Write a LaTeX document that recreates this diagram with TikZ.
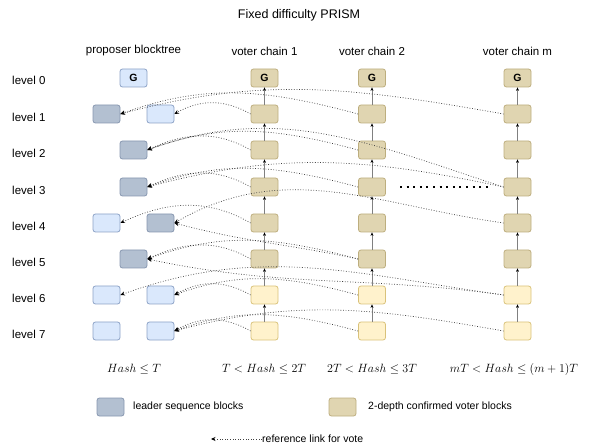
\documentclass[tikz,border=0pt]{standalone}
\usepackage{fontspec}
\setmainfont{Liberation Sans}
\usetikzlibrary{arrows.meta}
\definecolor{propfill}{HTML}{DAE8FC}
\definecolor{propdraw}{HTML}{8DA2C6}
\definecolor{leadfill}{HTML}{B3C0D1}
\definecolor{leaddraw}{HTML}{8797B0}
\definecolor{conffill}{HTML}{E0D5B1}
\definecolor{confdraw}{HTML}{BDAE7E}
\definecolor{pendfill}{HTML}{FFF2CC}
\definecolor{penddraw}{HTML}{D9C27A}
\tikzset{
  blk/.style={rectangle, rounded corners=2.5pt, minimum width=27pt, minimum height=18pt,
    inner sep=0pt, line width=0.8pt, font=\fontsize{10.5}{12}\selectfont\bfseries},
  prop/.style={blk, fill=propfill, draw=propdraw},
  lead/.style={blk, fill=leadfill, draw=leaddraw},
  conf/.style={blk, fill=conffill, draw=confdraw},
  pend/.style={blk, fill=pendfill, draw=penddraw},
  ttl/.style={font=\fontsize{12.5}{15}\selectfont},
  hdr/.style={font=\fontsize{11.5}{13}\selectfont},
  lvl/.style={anchor=west, inner sep=0pt, font=\fontsize{11.5}{13}\selectfont},
  hsh/.style={font=\fontsize{13}{16}\selectfont},
  key/.style={anchor=west, inner sep=0pt, font=\fontsize{10.5}{12}\selectfont},
  link/.style={draw=black!50, line width=0.8pt, -{Stealth[length=3.5pt,width=3pt,color=black]}},
  vote/.style={draw=black!75, line width=0.7pt, dash pattern=on 0.8pt off 1.8pt,
    -{Stealth[length=4.5pt,width=4pt,color=black]}},
  gap/.style={line width=2pt, dash pattern=on 2pt off 4.6pt}
}
\begin{document}
\begin{tikzpicture}[x=1pt,y=1pt]
  \useasboundingbox (0,0) rectangle (589,-446);
  \node[ttl] (title) at (299,-15) {Fixed difficulty PRISM};
  \path
    (133.5,-51) node[hdr] (hp){proposer blocktree}
    (264.5,-51) node[hdr] (h1){voter chain 1}
    (372,-51) node[hdr] (h2){voter chain 2}
    (517.5,-51) node[hdr] (hm){voter chain m};
  \path
    (12,-80) node[lvl] (l0){level 0}
    (12,-117) node[lvl] (l1){level 1}
    (12,-153) node[lvl] (l2){level 2}
    (12,-190) node[lvl] (l3){level 3}
    (12,-226) node[lvl] (l4){level 4}
    (12,-262) node[lvl] (l5){level 5}
    (12,-298) node[lvl] (l6){level 6}
    (12,-334) node[lvl] (l7){level 7};
  % proposer blocktree
  \path
    (133.5,-78) node[prop] (p0){G}
    (106.5,-114) node[lead] (p1a){}
    (160.5,-114) node[prop] (p1b){}
    (133.5,-150) node[lead] (p2){}
    (133.5,-187) node[lead] (p3){}
    (106.5,-223) node[prop] (p4a){}
    (160.5,-223) node[lead] (p4b){}
    (133.5,-259) node[lead] (p5){}
    (106.5,-295) node[prop] (p6a){}
    (160.5,-295) node[prop] (p6b){}
    (106.5,-331) node[prop] (p7a){}
    (160.5,-331) node[prop] (p7b){};
  % voter chains
  \path
    (264.5,-78) node[conf] (v1-0){G}
    (264.5,-114) node[conf] (v1-1){}
    (264.5,-150) node[conf] (v1-2){}
    (264.5,-187) node[conf] (v1-3){}
    (264.5,-223) node[conf] (v1-4){}
    (264.5,-259) node[conf] (v1-5){}
    (264.5,-295) node[pend] (v1-6){}
    (264.5,-331) node[pend] (v1-7){}
    (372,-78) node[conf] (v2-0){G}
    (372,-114) node[conf] (v2-1){}
    (372,-150) node[conf] (v2-2){}
    (372,-187) node[conf] (v2-3){}
    (372,-223) node[conf] (v2-4){}
    (372,-259) node[conf] (v2-5){}
    (372,-295) node[pend] (v2-6){}
    (372,-331) node[pend] (v2-7){}
    (517.5,-78) node[conf] (vm-0){G}
    (517.5,-114) node[conf] (vm-1){}
    (517.5,-150) node[conf] (vm-2){}
    (517.5,-187) node[conf] (vm-3){}
    (517.5,-223) node[conf] (vm-4){}
    (517.5,-259) node[conf] (vm-5){}
    (517.5,-295) node[pend] (vm-6){}
    (517.5,-331) node[pend] (vm-7){};
  \draw[gap] (400,-187) -- (488,-187);
  \begin{scope}[link]
    \draw (v1-1) -- (v1-0);
    \draw (v1-2) -- (v1-1);
    \draw (v1-3) -- (v1-2);
    \draw (v1-4) -- (v1-3);
    \draw (v1-5) -- (v1-4);
    \draw (v1-6) -- (v1-5);
    \draw (v1-7) -- (v1-6);
    \draw (v2-1) -- (v2-0);
    \draw (v2-2) -- (v2-1);
    \draw (v2-3) -- (v2-2);
    \draw (v2-4) -- (v2-3);
    \draw (v2-5) -- (v2-4);
    \draw (v2-6) -- (v2-5);
    \draw (v2-7) -- (v2-6);
    \draw (vm-1) -- (vm-0);
    \draw (vm-2) -- (vm-1);
    \draw (vm-3) -- (vm-2);
    \draw (vm-4) -- (vm-3);
    \draw (vm-5) -- (vm-4);
    \draw (vm-6) -- (vm-5);
    \draw (vm-7) -- (vm-6);
  \end{scope}
  \begin{scope}[vote]
    \draw (v1-1.west) to[out=150,in=30] (p1b.east);
    \draw (v2-1.west) to[out=165,in=20] (p1a.east);
    \draw (vm-1.west) to[out=170,in=15] (p1a.east);
    \draw (v1-2.west) to[out=150,in=25] (p2.east);
    \draw (v2-2.west) to[out=165,in=20] (p2.east);
    \draw (vm-3.west) to[out=162,in=20] (p2.east);
    \draw (v1-3.west) to[out=150,in=25] (p3.east);
    \draw (v2-3.west) to[out=165,in=20] (p3.east);
    \draw (vm-3.west) to[out=168,in=15] (p3.east);
    \draw (v1-4.west) to[out=150,in=25] (p4a.east);
    \draw (vm-4.west) to[out=172,in=30] (p4b.east);
    \draw (v2-5.west) to[out=168,in=-15] (p4b.east);
    \draw (v1-5.west) to[out=150,in=25] (p5.east);
    \draw (v2-5.west) to[out=165,in=20] (p5.east);
    \draw (vm-6.west) to[out=172,in=-12] (p5.east);
    \draw (v1-6.west) to[out=150,in=30] (p6b.east);
    \draw (v2-6.west) to[out=165,in=20] (p6b.east);
    \draw (vm-6.west) to[out=172,in=20] (p6a.east);
    \draw (v1-7.west) to[out=150,in=30] (p7b.east);
    \draw (v2-7.west) to[out=165,in=20] (p7b.east);
    \draw (vm-7.west) to[out=170,in=15] (p7b.east);
  \end{scope}
  % hash ranges
  \path
    (134,-369) node[hsh] (r0){$Hash \leq T$}
    (264,-369) node[hsh] (r1){$T < Hash \leq 2T$}
    (372,-369) node[hsh] (r2){$2T < Hash \leq 3T$}
    (514,-369) node[hsh] (rm){$mT < Hash \leq (m+1)T$};
  % legend
  \node[lead] (kl) at (110.5,-407) {};
  \node[key] (klt) at (133,-407) {leader sequence blocks};
  \node[conf] (kc) at (342.5,-407) {};
  \node[key] (kct) at (368,-407) {2-depth confirmed voter blocks};
  \coordinate (rtip) at (211,-439);
  \node[key] (rlt) at (262,-439) {reference link for vote};
  \draw[vote] (rlt.west) -- (rtip);
\end{tikzpicture}
\end{document}
